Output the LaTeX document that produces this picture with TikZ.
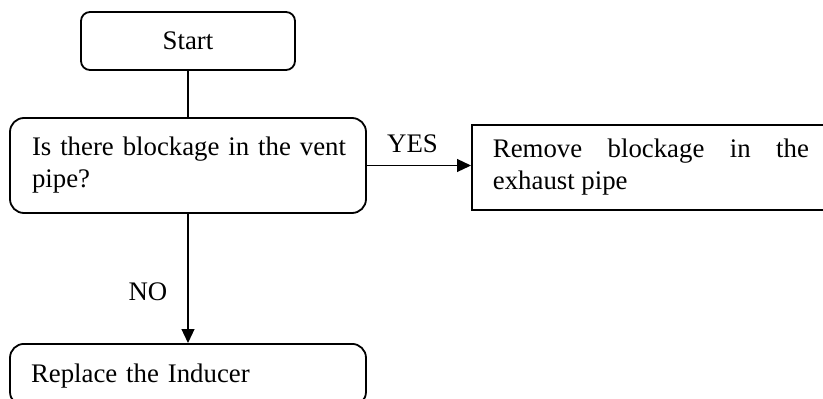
\documentclass[tikz,border=0pt]{standalone}
\usepackage{fontspec}
\setmainfont{Liberation Serif}
\usetikzlibrary{arrows.meta}
\hyphenpenalty=10000
\begin{document}
\begin{tikzpicture}[x=1pt,y=-1pt,
  every node/.style={font=\fontsize{26.8}{32}\selectfont},
  roundbox/.style={draw, line width=1.8pt, rounded corners=9pt, inner sep=0pt},
  squarebox/.style={draw, line width=1.8pt, inner sep=0pt},
  link/.style={line width=1.2pt},
  flow/.style={link, -{Triangle[length=14pt,width=13pt]}}]
  \clip (0,0) rectangle (823,399);
  \node[roundbox, minimum width=214pt, minimum height=58pt] (start) at (188,41) {Start};
  \node[roundbox, rounded corners=14pt, minimum width=356pt, minimum height=95pt,
        text width=312pt, align=left] (decision) at (188,165.5)
        {\makebox[300pt][l]{Is there blockage in the vent}\\pipe?};
  \node[squarebox, minimum width=358pt, minimum height=85pt, text width=316pt,
        align=justify, anchor=west] (remove) at (471,167.5)
        {Remove blockage in the exhaust pipe};
  \node[roundbox, rounded corners=14pt, minimum width=356pt, minimum height=62pt,
        text width=314pt, align=left, text height=20pt, text depth=5pt,
        anchor=north] (replace) at (188,343) {Replace the Inducer};
  \draw[link] (start.south) -- (decision.north);
  \draw[flow] (decision.east) -- (decision.east -| remove.west);
  \draw[flow] (decision.south) -- (replace.north);
  \node (yes) at (412.5,144) {YES};
  \node (no) at (148,292) {NO};
\end{tikzpicture}
\end{document}
